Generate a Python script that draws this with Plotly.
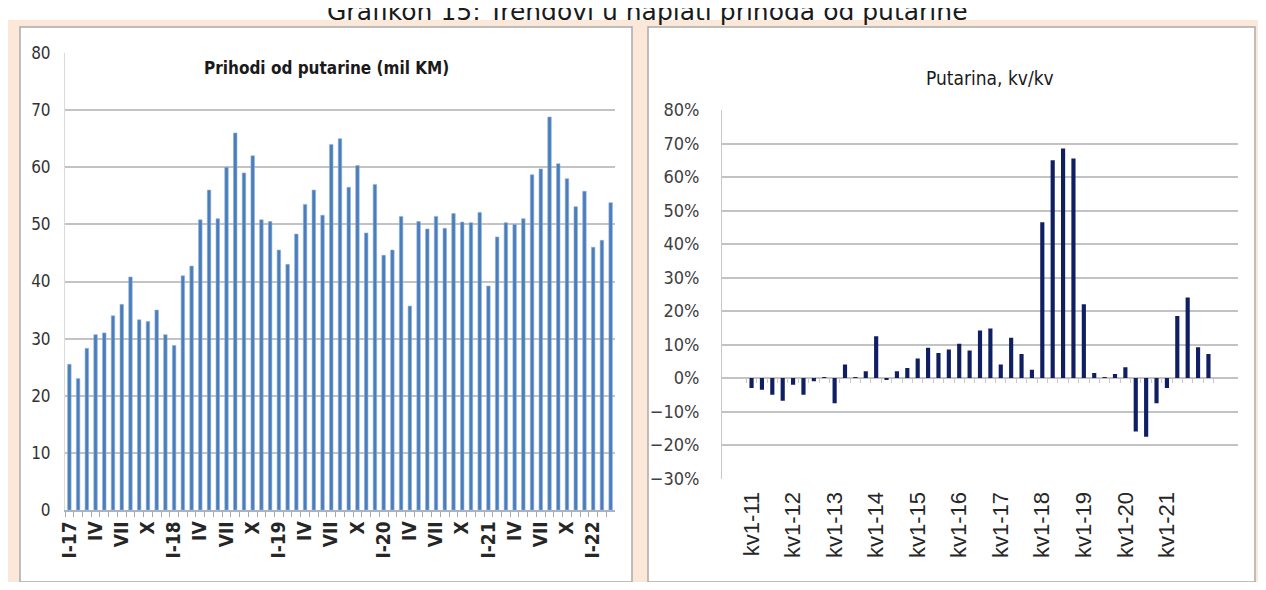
import plotly.graph_objects as go

# ---------------- data ----------------
months_roman = ["I", "II", "III", "IV", "V", "VI", "VII", "VIII", "IX", "X", "XI", "XII"]
years_left = ["17", "18", "19", "20", "21", "22"]
months_left = [f"{m}-{y}" for y in years_left for m in months_roman][:63]

revenue = [
    25.5, 23.0, 28.3, 30.7, 31.0, 34.0, 36.0, 40.8, 33.3, 33.0, 35.0, 30.7,
    28.8, 41.0, 42.7, 50.8, 56.0, 51.0, 60.0, 66.0, 59.0, 62.0, 50.8, 50.5,
    45.5, 43.0, 48.3, 53.5, 56.0, 51.6, 64.0, 65.0, 56.5, 60.3, 48.5, 57.0,
    44.6, 45.5, 51.4, 35.7, 50.5, 49.2, 51.4, 49.3, 51.9, 50.4, 50.3, 52.1,
    39.2, 47.8, 50.3, 50.0, 51.0, 58.7, 59.7, 68.8, 60.6, 58.0, 53.1, 55.8,
    46.0, 47.2, 53.8,
]
left_tick_text = ["I-17", "", "", "IV", "", "", "VII", "", "", "X", "", "",
                  "I-18", "", "", "IV", "", "", "VII", "", "", "X", "", "",
                  "I-19", "", "", "IV", "", "", "VII", "", "", "X", "", "",
                  "I-20", "", "", "IV", "", "", "VII", "", "", "X", "", "",
                  "I-21", "", "", "IV", "", "", "VII", "", "", "X", "", "",
                  "I-22", "", ""]

years_right = ["11", "12", "13", "14", "15", "16", "17", "18", "19", "20", "21", "22"]
quarters = [f"kv{q}-{y}" for y in years_right for q in (1, 2, 3, 4)][:45]
yoy = [
    -3.0, -3.5, -5.0, -6.8,
    -2.0, -5.0, -1.0, 0.3,
    -7.5, 4.0, 0.3, 2.0,
    12.5, -0.5, 2.0, 3.0,
    5.8, 9.0, 7.5, 8.5,
    10.2, 8.2, 14.2, 14.8,
    4.0, 12.0, 7.2, 2.5,
    46.5, 65.0, 68.5, 65.5,
    22.0, 1.5, 0.3, 1.2,
    3.2, -16.0, -17.5, -7.5,
    -3.0, 18.5, 24.0, 9.2,
    7.2,
]
yoy_frac = [v / 100 for v in yoy]
right_tick_vals = [q for q in quarters if q.startswith("kv1-") and q != "kv1-22"]

# ---------------- layout helpers ----------------
# page body has an 8px margin: the figure is drawn at (8, 8) in the window
OFF = 8
W, H = 1266 - 2 * OFF, 590 - 2 * OFF
def px(x):
    return (x - OFF) / W
def py(y):
    return 1 - (y - OFF) / H

NARROW = "Liberation Sans Narrow, DejaVu Sans Condensed, Arial Narrow, sans-serif"
ARIAL = "Liberation Sans, Arial, sans-serif"
GRID = "#C3C3C3"

left_xdom = [px(65), px(615)]
left_ydom = [py(510), py(53)]
right_xdom = [px(722), px(1238)]
right_ydom = [py(478.5), py(110)]
y2_range = [-0.3, 0.8]
zero_pos = right_ydom[0] + (right_ydom[1] - right_ydom[0]) * (0 - y2_range[0]) / (y2_range[1] - y2_range[0])

fig = go.Figure()
fig.add_trace(go.Bar(x=months_left, y=revenue, xaxis="x", yaxis="y",
                     marker=dict(color="#4A7EBB", line=dict(width=0.6, color="#8FB0DA")),
                     showlegend=False))
fig.add_trace(go.Bar(x=quarters, y=yoy_frac, xaxis="x2", yaxis="y2",
                     marker=dict(color="#101E62", line=dict(width=0)),
                     showlegend=False))
# helper trace for the category tick marks on the 0% line
fig.add_trace(go.Scatter(x=quarters, y=[None] * len(quarters), xaxis="x3", yaxis="y2",
                         mode="markers", showlegend=False, hoverinfo="skip"))

shapes = [
    dict(type="rect", xref="paper", yref="paper", x0=0, x1=1, y0=0, y1=py(20),
         fillcolor="#FCE8D9", line=dict(width=0), layer="below"),
    dict(type="rect", xref="paper", yref="paper", x0=px(20), x1=px(632), y0=py(582), y1=py(27),
         fillcolor="white", line=dict(width=1.5, color="#ABABAB"), layer="below"),
    dict(type="rect", xref="paper", yref="paper", x0=px(648), x1=px(1255), y0=py(582), y1=py(27),
         fillcolor="white", line=dict(width=1.5, color="#ABABAB"), layer="below"),
]

annotations = [
    dict(text="Grafikon 15: Trendovi u naplati prihoda od putarine", xref="paper", yref="paper",
         x=px(647), y=py(28), xanchor="center", yanchor="bottom", showarrow=False,
         font=dict(family="DejaVu Sans, Verdana, sans-serif", size=25, color="#1A1A1A")),
    dict(text="<b>Prihodi od putarine (mil KM)</b>", xref="paper", yref="paper",
         x=px(326), y=py(68), xanchor="center", yanchor="middle", showarrow=False,
         font=dict(family=NARROW, size=17, color="#1A1A1A")),
    dict(text="Putarina, kv/kv", xref="paper", yref="paper",
         x=px(990), y=py(78), xanchor="center", yanchor="middle", showarrow=False,
         font=dict(family=NARROW, size=19, color="#1A1A1A")),
]

fig.update_layout(
    width=W, height=H,
    margin=dict(l=0, r=0, t=0, b=0, autoexpand=False),
    paper_bgcolor="white", plot_bgcolor="rgba(0,0,0,0)",
    bargap=0.6,
    shapes=shapes, annotations=annotations,
    xaxis=dict(domain=left_xdom, anchor="y", type="category", categoryarray=months_left,
               tickvals=months_left, ticktext=left_tick_text, tickangle=-90,
               ticks="outside", tickson="boundaries", ticklen=5, tickcolor="#A9A9A9",
               showline=True, linecolor="#A9B3C4", linewidth=1.5, showgrid=False,
               tickfont=dict(family=NARROW, size=19, color="#262626", weight="bold"),
               ticklabelstandoff=2, automargin=False),
    yaxis=dict(domain=left_ydom, anchor="x", range=[0, 80], dtick=10,
               showgrid=True, gridcolor=GRID, gridwidth=1.5, zeroline=False,
               showline=True, linecolor="#DADADA", linewidth=1,
               tickfont=dict(family=NARROW, size=17, color="#333333"), ticklabelstandoff=10,
               automargin=False),
    xaxis2=dict(domain=right_xdom, anchor="y2", type="category", categoryarray=quarters,
                tickvals=right_tick_vals, ticktext=right_tick_vals, tickangle=-90,
                ticks="", showline=False, showgrid=False,
                tickfont=dict(family=ARIAL, size=22, color="#262626"), ticklabelstandoff=8,
                automargin=False),
    xaxis3=dict(overlaying="x2", matches="x2", anchor="free", position=zero_pos,
                type="category", categoryarray=quarters, tickvals=quarters,
                showticklabels=False, ticks="outside", tickson="boundaries", ticklen=4,
                tickcolor="#C8C8C8", showline=False, showgrid=False, automargin=False),
    yaxis2=dict(domain=right_ydom, anchor="x2", range=y2_range, dtick=0.1, tickformat=".0%",
                showgrid=True, gridcolor=GRID, gridwidth=1.5, zeroline=False,
                showline=True, linecolor="#C8C8C8", linewidth=1,
                tickfont=dict(family=NARROW, size=18, color="#404040"), ticklabelstandoff=18,
                automargin=False),
)

fig.write_html("out.html")
